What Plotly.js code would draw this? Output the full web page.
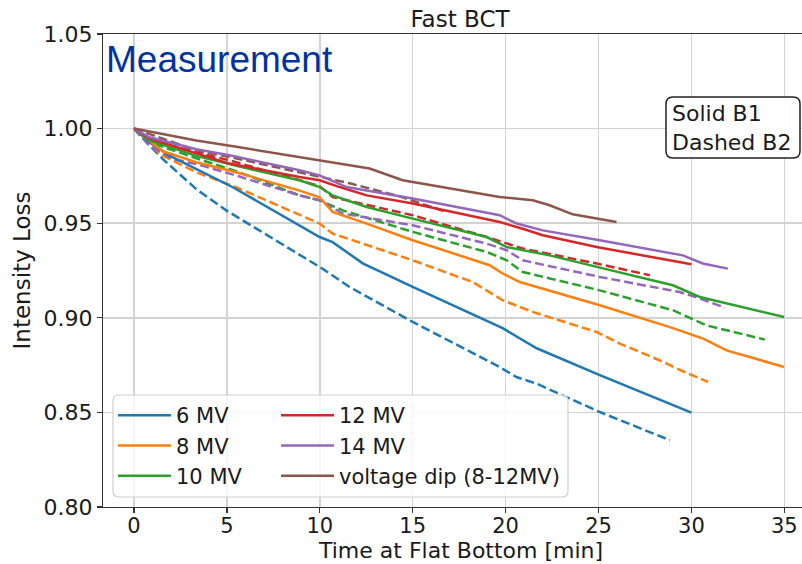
<!DOCTYPE html>
<html><head><meta charset="utf-8">
<script src="https://cdn.plot.ly/plotly-3.0.1.min.js"></script>
<style>html,body{margin:0;padding:0;overflow:hidden;background:#fff}#chart{width:830px;height:564px}</style>
</head><body><div id="chart"></div>
<script>
// ---- data ----
const seriesNames = ["6 MV", "8 MV", "10 MV", "12 MV", "14 MV", "voltage dip (8-12MV)"];
const xTicks = [0, 5, 10, 15, 20, 25, 30, 35];
const yTicks = [0.80, 0.85, 0.90, 0.95, 1.00, 1.05];

const t6_B1 = [0, 0.83, 1.91, 3.35, 5.32, 9.99, 10.69, 12.31, 15.0, 19.84, 21.67, 25.07, 30.0];
const y6_B1 = [1.0, 0.9928, 0.9857, 0.9786, 0.969, 0.9427, 0.940, 0.9288, 0.9163, 0.8945, 0.8839, 0.8697, 0.8499];
const t6_B2 = [0, 0.66, 1.55, 2.45, 3.35, 4.96, 9.99, 11.6, 15.0, 19.68, 20.58, 21.66, 25.07, 28.84];
const y6_B2 = [1.0, 0.9928, 0.9839, 0.976, 0.968, 0.9568, 0.9269, 0.9163, 0.8978, 0.874, 0.8687, 0.8652, 0.8502, 0.8353];

const t8_B1 = [0, 1.55, 3.35, 5.5, 8.91, 9.99, 10.69, 12.52, 15.0, 19.14, 19.84, 20.76, 25.07, 28.84, 30.63, 31.89, 34.99];
const y8_B1 = [1.0, 0.988, 0.9822, 0.9769, 0.9672, 0.9637, 0.9559, 0.9498, 0.941, 0.9278, 0.9234, 0.9189, 0.9066, 0.8951, 0.889, 0.8828, 0.874];
const t8_B2 = [0, 1.37, 3.35, 5.5, 9.99, 10.69, 15.0, 18.23, 19.84, 21.46, 24.89, 26.14, 28.48, 29.2, 30.9];
const y8_B2 = [1.0, 0.9866, 0.9769, 0.969, 0.9498, 0.9445, 0.9304, 0.9189, 0.9093, 0.9031, 0.8925, 0.8864, 0.8767, 0.8732, 0.8661];

const t10_B1 = [0, 0.83, 3.35, 5.5, 8.91, 9.99, 10.69, 12.52, 15.0, 18.98, 20.06, 22.37, 24.91, 29.0, 30.45, 34.99];
const y10_B1 = [1.0, 0.9938, 0.9856, 0.9803, 0.9727, 0.9691, 0.9647, 0.9586, 0.9524, 0.9427, 0.9374, 0.933, 0.9269, 0.9172, 0.911, 0.9004];
const t10_B2 = [0, 0.83, 3.35, 5.5, 8.91, 9.99, 11.23, 15.0, 18.98, 20.06, 20.92, 25.07, 29.0, 30.81, 33.95];
const y10_B2 = [1.0, 0.9928, 0.9843, 0.9775, 0.9647, 0.9621, 0.9568, 0.9454, 0.9348, 0.9304, 0.9242, 0.9145, 0.904, 0.896, 0.8885];

const t12_B1 = [0, 0.83, 3.35, 5.14, 8.91, 9.99, 11.07, 12.52, 15.0, 19.68, 20.92, 22.0, 24.9, 30.0];
const y12_B1 = [1.0, 0.9949, 0.9869, 0.9815, 0.9744, 0.9727, 0.9691, 0.9647, 0.9604, 0.9506, 0.9471, 0.9436, 0.9374, 0.9283];
const t12_B2 = [0, 0.83, 3.35, 5.14, 8.91, 9.99, 10.69, 15.0, 18.98, 20.06, 20.92, 24.9, 27.76];
const y12_B2 = [1.0, 0.9943, 0.9875, 0.9832, 0.9727, 0.9695, 0.9638, 0.9542, 0.9427, 0.9392, 0.9366, 0.9287, 0.9225];

const t14_B1 = [0, 0.83, 3.35, 5.14, 8.91, 9.99, 11.44, 15.0, 19.68, 20.6, 22.0, 25.07, 29.54, 30.61, 31.96];
const y14_B1 = [1.0, 0.9954, 0.9891, 0.9859, 0.978, 0.9753, 0.9691, 0.963, 0.9542, 0.9498, 0.9462, 0.941, 0.933, 0.9287, 0.926];
const t14_B2 = [0, 0.83, 2.09, 3.35, 5.5, 8.91, 9.99, 11.23, 15.0, 18.98, 20.06, 20.92, 25.07, 29.37, 30.45, 31.8];
const y14_B2 = [1.0, 0.991, 0.9839, 0.9813, 0.9752, 0.9647, 0.9621, 0.9551, 0.9489, 0.9392, 0.9357, 0.9304, 0.9216, 0.9136, 0.9102, 0.9054];

const tDip_B1 = [0, 1.55, 3.35, 5.68, 8.91, 11.6, 12.68, 14.46, 19.68, 21.46, 22.37, 23.61, 25.97];
const yDip_B1 = [1.0, 0.9971, 0.9937, 0.9901, 0.985, 0.981, 0.9789, 0.9727, 0.9639, 0.9621, 0.9595, 0.9547, 0.9506];
const tDip_B2 = [0, 3.35, 5.14, 8.91, 11.6, 14.3, 16.81];
const yDip_B2 = [1.0, 0.9885, 0.985, 0.9769, 0.9711, 0.9642, 0.9559];

// ---- styling ----
const colors = ["#1f77b4", "#ff7f0e", "#2ca02c", "#d62728", "#9467bd", "#8c564b"];
const B1 = [[t6_B1, y6_B1], [t8_B1, y8_B1], [t10_B1, y10_B1], [t12_B1, y12_B1], [t14_B1, y14_B1], [tDip_B1, yDip_B1]];
const B2 = [[t6_B2, y6_B2], [t8_B2, y8_B2], [t10_B2, y10_B2], [t12_B2, y12_B2], [t14_B2, y14_B2], [tDip_B2, yDip_B2]];

const W = 830, H = 564, ML = 103, MR = 13, MT = 34, MB = 57;
const PW = W - ML - MR, PH = H - MT - MB;
const FONT = "DejaVu Sans, sans-serif";

const traces = [];
B2.forEach((s, i) => traces.push({
  x: s[0], y: s[1], type: "scatter", mode: "lines", showlegend: false, hoverinfo: "skip",
  line: {color: colors[i], width: 2.5, dash: "9px,4px"}
}));
B1.forEach((s, i) => traces.push({
  x: s[0], y: s[1], type: "scatter", mode: "lines", name: seriesNames[i],
  legend: i < 3 ? "legend" : "legend2", legendgroup: "g" + i,
  line: {color: colors[i], width: 2.5}
}));

function px2paper(px, py) { return [(px - ML) / PW, (H - MB - py) / PH]; }
function roundRect(x0, y0, x1, y1, r) {
  const [a0, b0] = px2paper(x0, y0), [a1, b1] = px2paper(x1, y1);
  const rx = r / PW, ry = r / PH;
  return `M${a0 + rx},${b0} L${a1 - rx},${b0} Q${a1},${b0} ${a1},${b0 - ry} L${a1},${b1 + ry} Q${a1},${b1} ${a1 - rx},${b1} L${a0 + rx},${b1} Q${a0},${b1} ${a0},${b1 + ry} L${a0},${b0 - ry} Q${a0},${b0} ${a0 + rx},${b0} Z`;
}

const legendCommon = {
  font: {family: FONT, size: 21, color: "#1a1a1a"}, bgcolor: "rgba(0,0,0,0)", borderwidth: 0,
  xanchor: "left", yanchor: "top", itemwidth: 53, tracegroupgap: 0, itemclick: false
};

const layout = {
  width: W, height: H,
  margin: {l: ML, r: MR, t: MT, b: MB, pad: 0},
  paper_bgcolor: "#fff", plot_bgcolor: "#fff",
  font: {family: FONT, size: 20, color: "#1a1a1a"},
  title: {text: "Fast BCT", font: {family: FONT, size: 23, color: "#1a1a1a"}, x: 0.5, xref: "paper", y: 1 - 19 / H, yref: "container", yanchor: "middle"},
  xaxis: {
    range: [-1.67, 36.76], tickvals: xTicks, ticks: "outside", ticklen: 5, tickwidth: 1.2, tickcolor: "#333",
    showline: true, linecolor: "#333", linewidth: 1.2, mirror: true, ticklabelstandoff: -5,
    showgrid: true, gridcolor: "#d3d3d3", gridwidth: 1.5, zeroline: false,
    tickfont: {family: FONT, size: 21, color: "#1a1a1a"}
  },
  yaxis: {
    range: [0.80, 1.05], tickvals: yTicks, tickformat: ".2f", ticks: "outside", ticklen: 5, tickwidth: 1.2, tickcolor: "#333",
    showline: true, linecolor: "#333", linewidth: 1.2, mirror: true,
    showgrid: true, gridcolor: "#d3d3d3", gridwidth: 1.5, zeroline: false,
    tickfont: {family: FONT, size: 22, color: "#1a1a1a"},
    title: {text: "Intensity Loss", font: {family: FONT, size: 23, color: "#1a1a1a"}, standoff: 6}
  },
  legend: Object.assign({}, legendCommon, {x: px2paper(113, 0)[0], y: px2paper(0, 395)[1]}),
  legend2: Object.assign({}, legendCommon, {x: px2paper(276, 0)[0], y: px2paper(0, 395)[1]}),
  shapes: [
    {type: "path", xref: "paper", yref: "paper", layer: "above", path: roundRect(113, 395, 568, 497, 6),
     fillcolor: "rgba(255,255,255,0.8)", line: {color: "#d0d0d0", width: 1.2}},
    {type: "path", xref: "paper", yref: "paper", layer: "above", path: roundRect(666, 97, 800, 158, 7),
     fillcolor: "rgba(255,255,255,0.9)", line: {color: "#222", width: 1.5}}
  ],
  annotations: [
    {text: "Time at Flat Bottom [min]", xref: "paper", yref: "paper", x: px2paper(460, 0)[0], y: px2paper(0, 564)[1],
     xanchor: "center", yanchor: "bottom", showarrow: false, borderpad: 0,
     font: {family: FONT, size: 22, color: "#1a1a1a"}},
    {text: "Measurement", xref: "paper", yref: "paper", x: px2paper(104, 0)[0], y: px2paper(0, 60)[1],
     xanchor: "left", yanchor: "middle", showarrow: false,
     font: {family: "Liberation Sans, Arial, sans-serif", size: 37, color: "#0033a0"}},
    {text: "Solid B1<br>Dashed B2", xref: "paper", yref: "paper", x: px2paper(670, 0)[0], y: px2paper(0, 127.5)[1],
     xanchor: "left", yanchor: "middle", align: "left", showarrow: false,
     font: {family: FONT, size: 22, color: "#1a1a1a"}}
  ]
};

Plotly.newPlot("chart", traces, layout, {displayModeBar: false, staticPlot: true});
</script>
</body></html>
